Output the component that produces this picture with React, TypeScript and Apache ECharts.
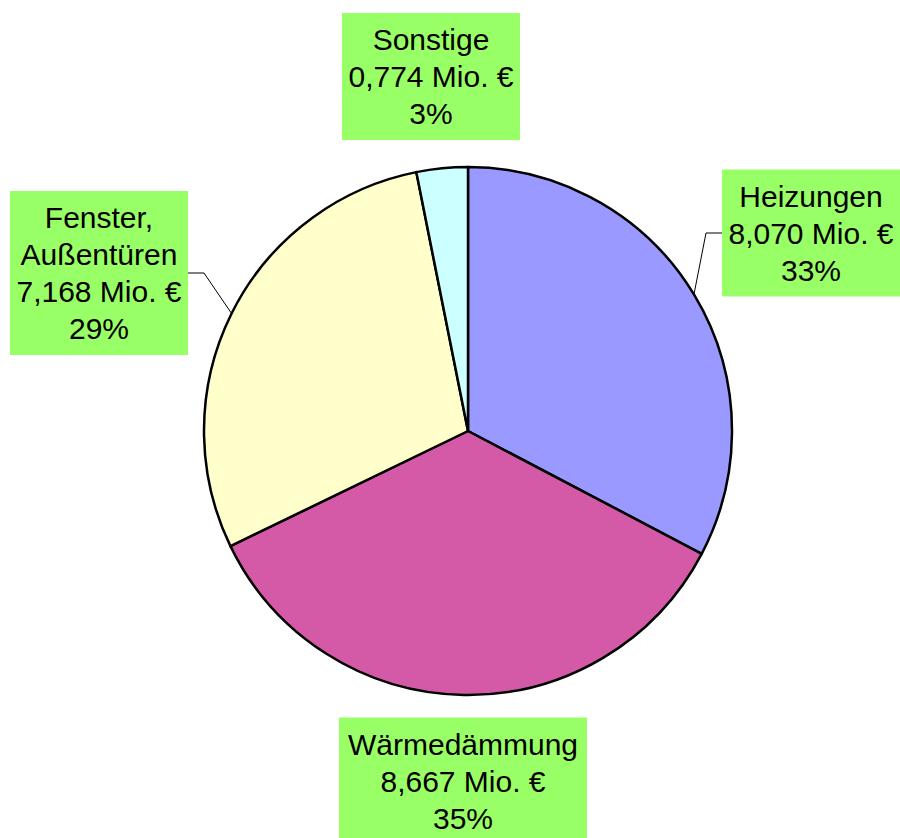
import React, { useEffect, useRef } from "react";
import * as echarts from "echarts";

// Data
const categories = ["Heizungen", "Wärmedämmung", "Fenster,\nAußentüren", "Sonstige"];
const valuesMioEur = [8.07, 8.667, 7.168, 0.774];
const unit = "Mio. €";

// Styles / layout (not data)
const sliceColors = ["#9999FF", "#D45AA8", "#FFFFCC", "#CCFFFF"];
const labelBg = "#99FF66";
const labelCenters: [number, number][] = [
  [811, 233],
  [463, 781],
  [99, 273],
  [431, 76.5],
];
const labelWidths = [166, 236, 166, 166];
const showLeader = [true, false, true, false];
const pieCenter: [number, number] = [468, 431];

const fmtValue = (v: number) => v.toFixed(3).replace(".", ",");

export default function App() {
  const ref = useRef<HTMLDivElement>(null);
  useEffect(() => {
    if (!ref.current) return;
    const chart = echarts.init(ref.current, null, { renderer: "svg" });
    chart.setOption({
      animation: false,
      backgroundColor: "#ffffff",
      series: [
        {
          type: "pie",
          center: pieCenter,
          radius: 264,
          startAngle: 90,
          clockwise: true,
          emphasis: { disabled: true },
          itemStyle: { borderColor: "#000000", borderWidth: 2.5 },
          label: {
            show: true,
            position: "outside",
            overflow: "none",
            color: "#000000",
            fontFamily: "'Liberation Sans', Arial, sans-serif",
            fontSize: 30,
            lineHeight: 37,
            align: "center",
            backgroundColor: labelBg,
            padding: [8, 6],
            formatter: (p: any) =>
              `${p.name}\n${fmtValue(p.value)} ${unit}\n${Math.round(p.percent)}%`,
          },
          labelLine: {
            show: true,
            lineStyle: { color: "#000000", width: 1 },
          },
          labelLayout: (params: any) => {
            const i = params.dataIndex;
            const [cx, cy] = labelCenters[i];
            const res: any = { x: cx, y: cy, align: "center", verticalAlign: "middle" };
            if (showLeader[i] && params.labelLinePoints) {
              const w = params.labelRect.width;
              const start = params.labelLinePoints[0];
              const leftSide = cx < pieCenter[0];
              const edgeX = leftSide ? cx + w / 2 : cx - w / 2;
              const elbowX = leftSide ? edgeX + 16 : edgeX - 16;
              res.labelLinePoints = [start, [elbowX, cy], [edgeX, cy]];
            }
            return res;
          },
          data: categories.map((name, i) => ({
            name,
            value: valuesMioEur[i],
            itemStyle: { color: sliceColors[i] },
            label: { width: labelWidths[i] },
            labelLine: { show: showLeader[i] },
          })),
        },
      ],
    });
    return () => chart.dispose();
  }, []);
  return (
    <div
      ref={ref}
      style={{ position: "fixed", left: 0, top: 0, width: 900, height: 838 }}
    />
  );
}
